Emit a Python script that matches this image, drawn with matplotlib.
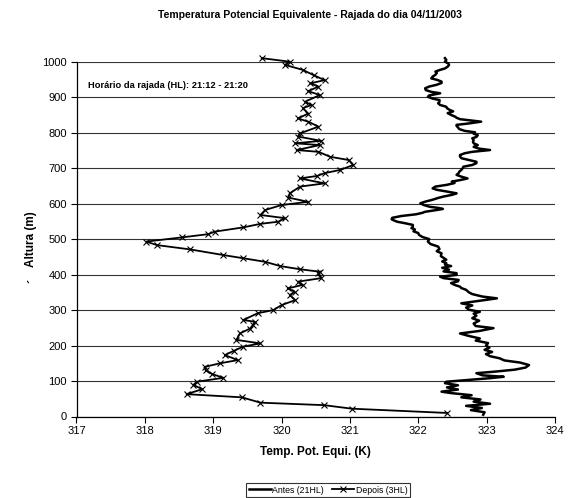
import matplotlib
matplotlib.use("Agg")
import matplotlib.pyplot as plt

plt.rcParams['font.family'] = ['Liberation Sans', 'DejaVu Sans']

# ---- data ----
antes_h = [5, 12, 18, 24, 30, 36, 42, 48, 54, 60, 66, 70, 76, 82, 88, 94, 98, 103, 108, 112,
           116, 122, 127, 132, 138, 145, 152, 158, 164, 170, 176, 182, 188, 194, 200, 207, 214,
           220, 227, 234, 241, 249, 255, 262, 270, 277, 284, 290, 295, 301, 307, 313, 319, 326,
           333, 338, 345, 350, 357, 362, 366, 371, 376, 381, 385, 390, 394, 399, 404, 409, 414,
           419, 424, 428, 432, 437, 442, 447, 452, 460, 466, 472, 479, 486, 493, 500, 506, 512,
           517, 522, 527, 531, 535, 540, 545, 549, 553, 556, 560, 565, 570, 574, 577, 582, 585,
           588, 591, 596, 601, 606, 611, 616, 620, 625, 629, 634, 639, 643, 648, 653, 658, 662,
           667, 671, 676, 681, 686, 690, 695, 700, 704, 709, 714, 718, 723, 728, 733, 737, 742,
           746, 751, 755, 760, 765, 770, 775, 779, 784, 788, 793, 797, 801, 805, 810, 815, 819,
           822, 826, 831, 835, 838, 842, 845, 850, 855, 860, 864, 869, 873, 878, 883, 887, 892,
           896, 901, 905, 911, 915, 920, 925, 930, 935, 940, 944, 949, 953, 958, 963, 968, 972,
           977, 981, 986, 991, 995, 1000, 1005, 1010]
antes_t = [322.95, 322.97, 322.77, 322.93, 322.70, 323.05, 322.81, 322.91, 322.63, 322.78,
           322.48, 322.34, 322.58, 322.42, 322.58, 322.39, 322.41, 322.74, 323.05, 323.25,
           322.94, 322.85, 323.15, 323.41, 323.57, 323.62, 323.49, 323.26, 323.19, 323.05,
           322.99, 323.08, 322.97, 323.04, 322.99, 323.02, 322.84, 322.90, 322.74, 322.61,
           322.89, 323.10, 322.84, 322.81, 322.89, 322.79, 322.85, 322.81, 322.90, 322.74,
           322.70, 322.79, 322.63, 322.89, 323.15, 322.94, 322.79, 322.74, 322.70, 322.63,
           322.61, 322.53, 322.48, 322.58, 322.59, 322.37, 322.32, 322.56, 322.56, 322.37,
           322.45, 322.35, 322.48, 322.39, 322.41, 322.35, 322.41, 322.37, 322.33, 322.34,
           322.27, 322.31, 322.29, 322.18, 322.14, 322.16, 322.06, 322.01, 322.00, 321.93,
           321.95, 321.90, 321.92, 321.92, 321.80, 321.69, 321.64, 321.61, 321.62, 321.75,
           321.97, 322.06, 322.10, 322.27, 322.36, 322.29, 322.17, 322.08, 322.03, 322.11,
           322.21, 322.29, 322.37, 322.50, 322.56, 322.42, 322.27, 322.21, 322.25, 322.42,
           322.53, 322.49, 322.63, 322.72, 322.63, 322.56, 322.59, 322.60, 322.63, 322.65,
           322.66, 322.79, 322.85, 322.85, 322.74, 322.63, 322.61, 322.61, 322.68, 322.79,
           323.05, 322.89, 322.81, 322.87, 322.81, 322.80, 322.81, 322.79, 322.85, 322.87,
           322.81, 322.83, 322.68, 322.60, 322.58, 322.56, 322.56, 322.74, 322.92, 322.74,
           322.61, 322.56, 322.54, 322.48, 322.43, 322.51, 322.46, 322.42, 322.41, 322.32,
           322.29, 322.31, 322.31, 322.21, 322.14, 322.16, 322.32, 322.19, 322.11, 322.10,
           322.16, 322.27, 322.34, 322.34, 322.27, 322.19, 322.21, 322.25, 322.27, 322.25,
           322.32, 322.39, 322.43, 322.45, 322.44, 322.39, 322.41, 322.39]

depois_h = [10, 22, 32, 39, 54, 63, 77, 89, 98, 109, 120, 130, 140, 150, 159, 173, 185, 197,
            206, 216, 234, 248, 258, 267, 272, 291, 300, 314, 328, 342, 352, 361, 371, 380,
            390, 404, 408, 415, 424, 436, 446, 455, 471, 483, 493, 505, 514, 521, 533, 543,
            549, 559, 568, 582, 596, 605, 617, 629, 648, 657, 671, 678, 686, 695, 709, 723,
            732, 746, 751, 765, 770, 777, 789, 798, 817, 831, 840, 854, 869, 878, 887, 906,
            917, 930, 939, 948, 962, 977, 991, 1000, 1010]
depois_t = [322.42, 321.03, 320.62, 319.69, 319.42, 318.61, 318.84, 318.71, 318.76, 319.15,
            318.98, 318.89, 318.88, 319.10, 319.36, 319.17, 319.30, 319.44, 319.69, 319.34,
            319.39, 319.54, 319.58, 319.61, 319.44, 319.65, 319.88, 320.00, 320.20, 320.12,
            320.19, 320.09, 320.31, 320.24, 320.58, 320.54, 320.56, 320.27, 319.98, 319.76,
            319.44, 319.15, 318.66, 318.18, 318.02, 318.55, 318.93, 319.02, 319.44, 319.69,
            319.95, 320.05, 319.69, 319.76, 320.00, 320.39, 320.10, 320.12, 320.27, 320.63,
            320.27, 320.52, 320.63, 320.86, 321.05, 320.98, 320.71, 320.54, 320.22, 320.56,
            320.20, 320.58, 320.24, 320.27, 320.54, 320.39, 320.24, 320.39, 320.31, 320.44,
            320.34, 320.56, 320.39, 320.54, 320.42, 320.63, 320.47, 320.31, 320.05, 320.12,
            319.71]

x_ticks = [317, 318, 319, 320, 321, 322, 323, 324]
y_ticks = [0, 100, 200, 300, 400, 500, 600, 700, 800, 900, 1000]

title = "Temperatura Potencial Equivalente - Rajada do dia 04/11/2003"
note = "Horário da rajada (HL): 21:12 - 21:20"

# ---- figure ----
W, H = 582, 498
fig = plt.figure(figsize=(W / 100, H / 100), dpi=100)
x0, x1, ytop, ybot = 76.5, 555, 61.7, 416.5
ax = fig.add_axes([x0 / W, 1 - ybot / H, (x1 - x0) / W, (ybot - ytop) / H])

ax.set_xlim(317, 324)
ax.set_ylim(0, 1000)
ax.set_xticks(x_ticks)
ax.set_yticks(y_ticks)
ax.set_xticklabels([str(v) for v in x_ticks], fontsize=8)
ax.set_yticklabels([str(v) for v in y_ticks], fontsize=8)
ax.tick_params(axis='both', direction='out', length=4, width=0.8, color='black', pad=3)

ax.grid(axis='y', color='#333333', linewidth=0.8)
ax.set_axisbelow(True)
for s in ['top', 'right']:
    ax.spines[s].set_visible(False)
for s in ['left', 'bottom']:
    ax.spines[s].set_linewidth(0.9)
    ax.spines[s].set_color('black')

ax.plot(antes_t, antes_h, color='black', linewidth=1.8, solid_joinstyle='round',
        clip_on=False, label='Antes (21HL)')
ax.plot(depois_t, depois_h, color='black', linewidth=1.3, marker='x', markersize=5,
        markeredgewidth=0.8, clip_on=False, label='Depois (3HL)')

ax.set_xlabel("Temp. Pot. Equi. (K)", fontsize=8.5, fontweight='bold', labelpad=7)
ax.set_ylabel("Altura (m)", fontsize=8.5, fontweight='bold')
ax.yaxis.set_label_coords((37 - x0) / (x1 - x0), 0.5)
fig.text(34 / W, 1 - 281 / H, "´", rotation=90, ha='center', va='center',
         fontsize=9, fontweight='bold')

fig.text(310 / W, 1 - 15 / H, title, ha='center', va='center', fontsize=7.5, fontweight='bold')
fig.text(88 / W, 1 - 85 / H, note, ha='left', va='center', fontsize=6.7, fontweight='bold')

leg = fig.legend(handles=ax.get_lines(), loc='center', bbox_to_anchor=(328 / W, 1 - 490 / H),
                 ncol=2, fontsize=6.3, frameon=True, fancybox=False, edgecolor='black',
                 handlelength=2.5, handletextpad=0.2, columnspacing=0.9, borderpad=0.3)
leg.get_frame().set_linewidth(0.8)

fig.savefig("out.png", dpi=100, facecolor='white')
